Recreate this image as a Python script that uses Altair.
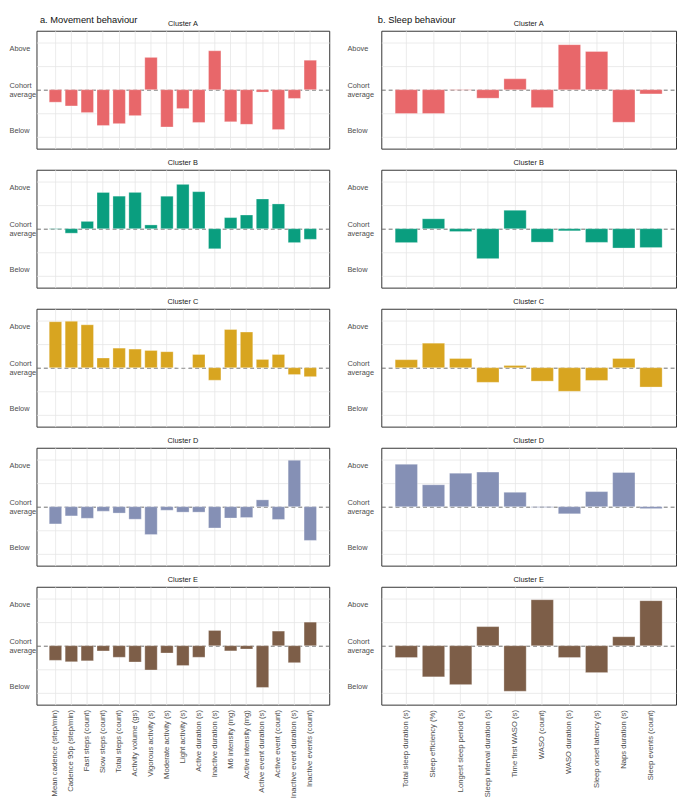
import altair as alt
import pandas as pd

movement_vars = [
    "Mean cadence (step/min)", "Cadence 95p (step/min)", "Fast steps (count)",
    "Slow steps (count)", "Total steps (count)", "Activity volume (gs)",
    "Vigorous activity (s)", "Moderate activity (s)", "Light activity (s)",
    "Active duration (s)", "Inactive duration (s)", "M6 intensity (mg)",
    "Active intensity (mg)", "Active event duration (s)", "Active event (count)",
    "Inactive event duration (s)", "Inactive events (count)",
]
sleep_vars = [
    "Total sleep duration (s)", "Sleep efficiency (%)", "Longest sleep period (s)",
    "Sleep interval duration (s)", "Time first WASO (s)", "WASO (count)",
    "WASO duration (s)", "Sleep onset latency (s)", "Naps duration (s)",
    "Sleep events (count)",
]
clusters = ["Cluster A", "Cluster B", "Cluster C", "Cluster D", "Cluster E"]
cluster_colors = ["#E8676A", "#0A9E7F", "#D8A520", "#8590B5", "#7D5E48"]

movement_A = [-0.53, -0.69, -0.97, -1.52, -1.44, -1.10, 1.37, -1.58, -0.80, -1.39, 1.65, -1.36, -1.47, -0.10, -1.69, -0.37, 1.25]
movement_B = [-0.02, -0.19, 0.31, 1.54, 1.38, 1.54, 0.16, 1.38, 1.88, 1.57, -0.85, 0.47, 0.58, 1.26, 1.05, -0.59, -0.45]
movement_C = [1.95, 1.97, 1.82, 0.41, 0.83, 0.79, 0.73, 0.68, 0.0, 0.56, -0.53, 1.62, 1.51, 0.35, 0.56, -0.29, -0.38]
movement_D = [-0.73, -0.39, -0.49, -0.19, -0.27, -0.53, -1.18, -0.15, -0.23, -0.23, -0.90, -0.48, -0.46, 0.29, -0.54, 1.97, -1.43]
movement_E = [-0.62, -0.68, -0.64, -0.22, -0.49, -0.69, -1.03, -0.31, -0.84, -0.49, 0.65, -0.22, -0.14, -1.77, 0.62, -0.72, 1.00]

sleep_A = [-1.01, -1.01, -0.02, -0.36, 0.46, -0.76, 1.91, 1.62, -1.38, -0.18]
sleep_B = [-0.59, 0.42, -0.12, -1.27, 0.78, -0.57, -0.09, -0.58, -0.82, -0.80]
sleep_C = [0.34, 1.04, 0.39, -0.62, 0.09, -0.57, -1.00, -0.54, 0.39, -0.82]
sleep_D = [1.80, 0.93, 1.42, 1.47, 0.61, -0.03, -0.30, 0.64, 1.45, -0.08]
sleep_E = [-0.50, -1.32, -1.65, 0.81, -1.93, 1.95, -0.50, -1.14, 0.38, 1.91]

movement_values = [movement_A, movement_B, movement_C, movement_D, movement_E]
sleep_values = [sleep_A, sleep_B, sleep_C, sleep_D, sleep_E]

y_ticks = [-2, -1.75, -1, 0, 1, 1.75, 2]
y_label_expr = ("datum.value == 1.75 ? 'Above' : datum.value == -1.75 ? 'Below' : "
                "datum.value == 0 ? ['Cohort', 'average'] : ''")

FONT = "Liberation Sans"


def panel(variables, values, color, title, width, bottom, label_pad, p_inner, p_outer):
    df = pd.DataFrame({"variable": variables, "value": values})
    x_axis = alt.Axis(
        title=None, grid=True, bandPosition=0.5, ticks=False, domain=False,
        labels=bottom, labelAngle=-90, labelAlign="right", labelBaseline="middle",
        labelFontSize=7.8, labelColor="#4D4D4D", labelPadding=5, labelFont=FONT,
        gridColor="#E6E6E6", gridWidth=0.8,
    )
    y_axis = alt.Axis(
        title=None, values=y_ticks, labelExpr=y_label_expr, ticks=False, domain=False,
        labelAlign="left", labelBaseline="middle", labelPadding=label_pad,
        labelOverlap=False,
        labelOffset={"condition": {"test": "datum.value == 0", "value": -4}, "value": 0},
        labelFontSize=7.5, labelColor="#4D4D4D", labelFont=FONT, labelLineHeight=8.5,
        gridColor={"condition": {"test": "datum.value == 0", "value": "#6E6E6E"}, "value": "#E6E6E6"},
        gridWidth={"condition": {"test": "datum.value == 0", "value": 1}, "value": 0.8},
        gridDash={"condition": {"test": "datum.value == 0", "value": [4, 3]}, "value": []},
        gridOpacity={"condition": {"test": "abs(datum.value) == 1.75", "value": 0}, "value": 1},
    )
    bars = alt.Chart(df).mark_bar(color=color, stroke="white", strokeWidth=0.3).encode(
        x=alt.X("variable:N", sort=variables,
                scale=alt.Scale(paddingInner=p_inner, paddingOuter=p_outer), axis=x_axis),
        y=alt.Y("value:Q", scale=alt.Scale(domain=[-2.5, 2.5], nice=False, zero=True), axis=y_axis),
    )
    return bars.properties(
        width=width, height=120,
        title=alt.TitleParams(title, fontSize=7.5, font=FONT, fontWeight="normal",
                              color="#1A1A1A", offset=3, anchor="middle"),
    )


left_panels = [
    panel(movement_vars, movement_values[i], cluster_colors[i], clusters[i], 298,
          i == 4, 28, 0.22, 0.8)
    for i in range(5)
]
right_panels = [
    panel(sleep_vars, sleep_values[i], cluster_colors[i], clusters[i], 300,
          i == 4, 35, 0.18, 0.51)
    for i in range(5)
]

left_col = alt.vconcat(*left_panels, spacing=9.5).properties(
    title=alt.TitleParams("a. Movement behaviour", anchor="start", fontSize=9.5, font=FONT,
                          fontWeight="normal", color="#111111", dx=32, offset=-5)
)
right_col = alt.vconcat(*right_panels, spacing=9.5).properties(
    title=alt.TitleParams("b. Sleep behaviour", anchor="start", fontSize=9.5, font=FONT,
                          fontWeight="normal", color="#111111", dx=32, offset=-5)
)

chart = alt.hconcat(left_col, right_col, spacing=16).properties(
    padding=0
).configure_view(
    stroke="#333333", strokeWidth=1
)

chart.save("out.html", embed_options={"renderer": "svg", "actions": False})
